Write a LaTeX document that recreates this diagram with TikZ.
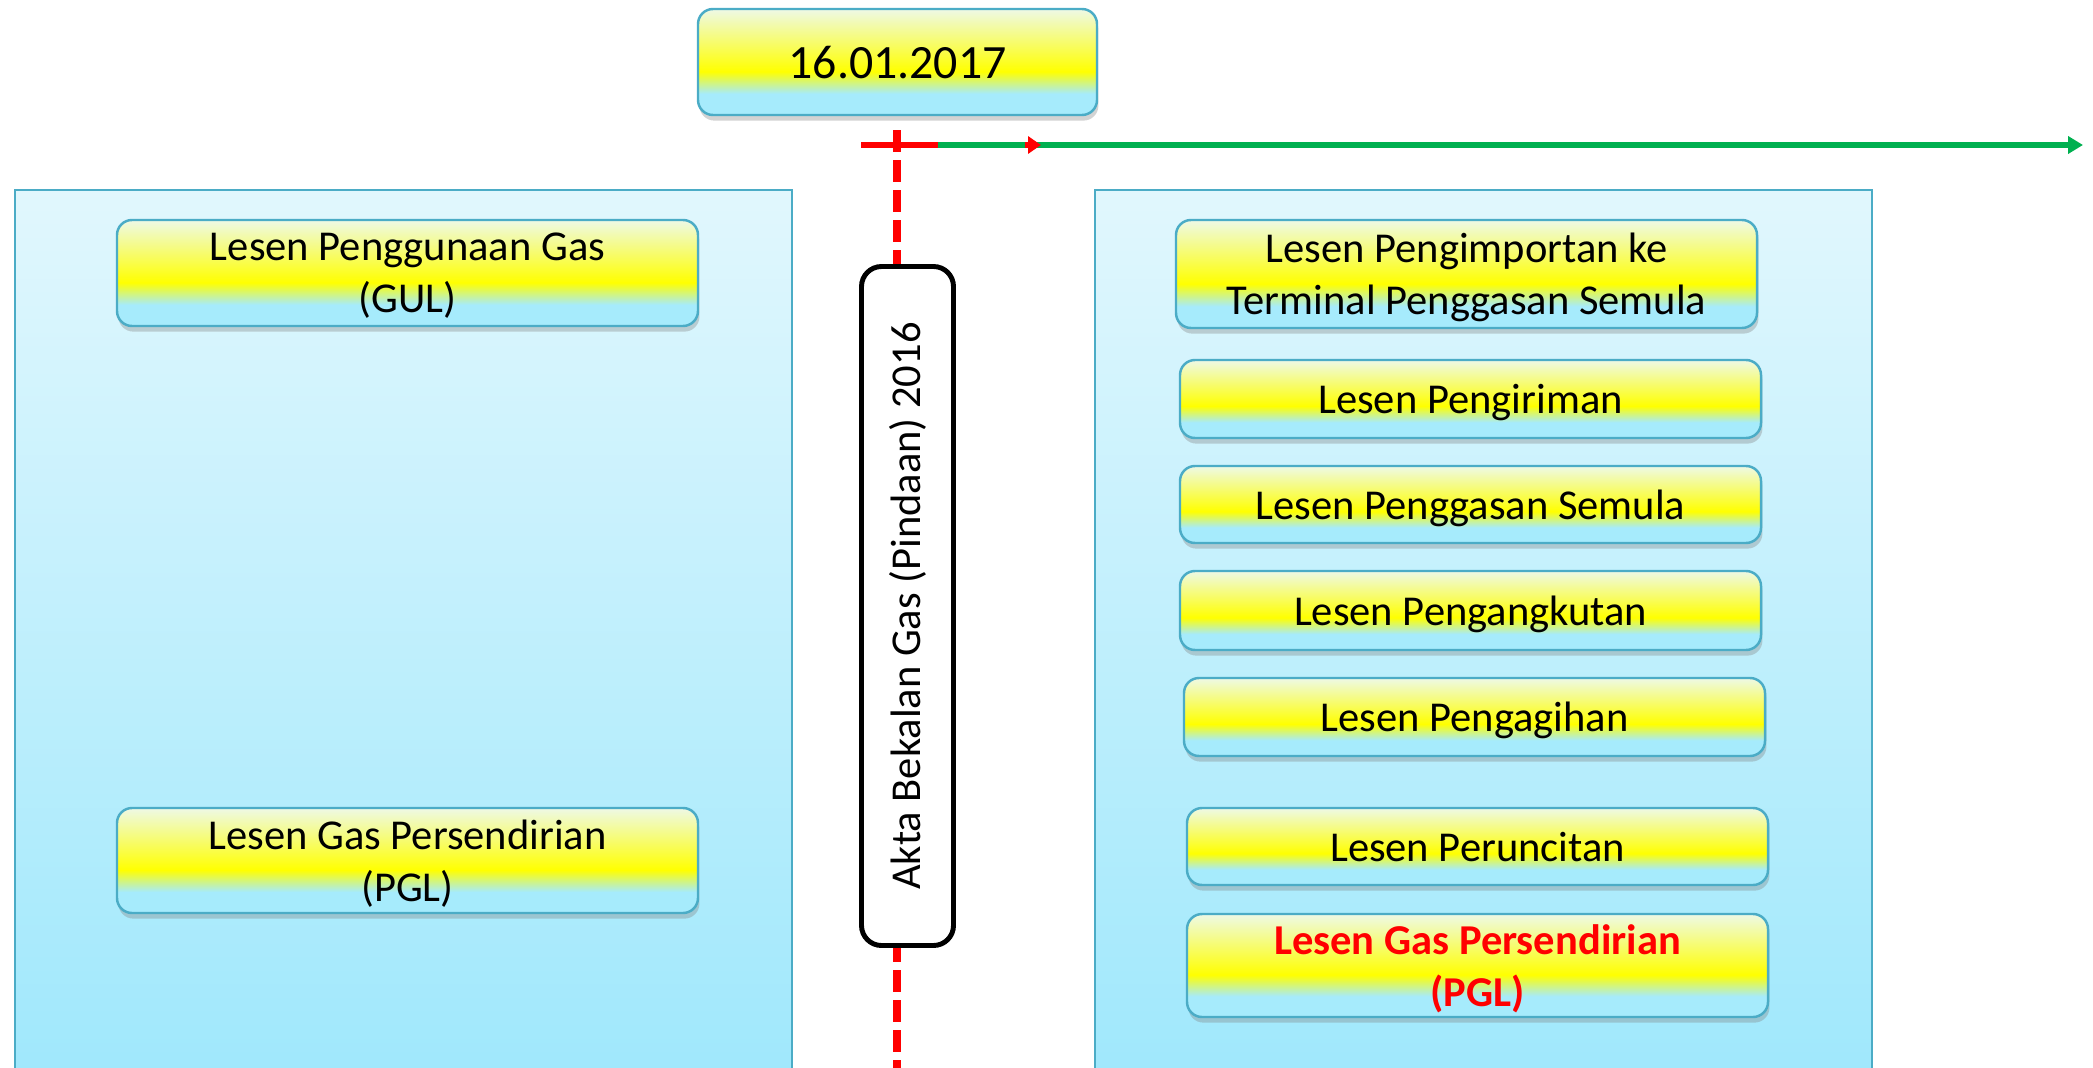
\documentclass[tikz,border=0pt]{standalone}
\usepackage{fontspec}
\setmainfont{Carlito}
\usetikzlibrary{arrows.meta,shadows}
\definecolor{lsnedge}{HTML}{4BACC6}
\definecolor{lsntop}{HTML}{EEF9E6}
\definecolor{lsnyel}{HTML}{FFFF00}
\definecolor{lsncyan}{HTML}{A6EBFC}
\definecolor{pnltop}{HTML}{E1F7FD}
\definecolor{pnlbot}{HTML}{A0E8FC}
\definecolor{tlgreen}{HTML}{00B050}
\pgfdeclareverticalshading{lesenshade}{100bp}{color(0bp)=(lsncyan); color(35bp)=(lsncyan); color(45.5bp)=(lsnyel); color(75bp)=(lsntop); color(100bp)=(lsntop)}
\pgfdeclareverticalshading{panelshade}{100bp}{color(0bp)=(pnlbot); color(25bp)=(pnlbot); color(75bp)=(pnltop); color(100bp)=(pnltop)}
\begin{document}
\begin{tikzpicture}[
    lesen/.style={draw=lsnedge, line width=0.7pt, rounded corners=0.15cm, shading=lesenshade,
        drop shadow={shadow xshift=0.4pt, shadow yshift=-1.6pt, opacity=0.35},
        minimum width=5.81cm, inner sep=0pt, align=center, text depth=0pt,
        font=\fontsize{12.1}{14.8}\selectfont},
    panel/.style={draw=lsnedge, line width=0.7pt, shading=panelshade, inner sep=0pt,
        minimum width=7.77cm, minimum height=8.82cm}]
    \useasboundingbox (0,0) rectangle (20.93,10.67);

    % two periods
    \node[panel] (lhs) at (4.035,4.36) {};
    \node[panel] (rhs) at (14.835,4.36) {};

    % time line
    \coordinate (tStart) at (8.61,9.22);
    \coordinate (tMid)   at (9.38,9.22);
    \coordinate (tTip)   at (10.25,9.22);
    \coordinate (tRed)   at (10.41,9.22);
    \coordinate (tEnd)   at (20.83,9.22);
    \coordinate (cutTop) at (8.97,9.37);
    \coordinate (cutBot) at (8.97,-0.05);

    \draw [red, line width=1.5pt] (tStart) -- (tMid);
    \draw [tlgreen, line width=1.5pt, -{Triangle[length=0.15cm,width=0.17cm]}] (tMid) -- (tEnd);
    \draw [red, line width=1.5pt, -{Triangle[length=0.13cm,width=0.17cm]}] (tTip) -- (tRed);
    \draw [red, line width=2.2pt, dash pattern=on 0.22cm off 0.08cm] (cutTop) -- (cutBot);

    \node[draw, line width=1.4pt, rounded corners=0.2cm, fill=white, rotate=90,
          minimum width=6.79cm, minimum height=0.92cm, inner sep=0pt,
          font=\fontsize{12.1}{14.8}\selectfont] (akta) at (9.075,4.61) {Akta Bekalan Gas (Pindaan) 2016};
    \node[lesen, minimum width=3.99cm, minimum height=1.06cm,
          font=\fontsize{13.6}{16}\selectfont] (tarikh) at (8.975,10.05) {16.01.2017};

    % before
    \node[lesen, minimum height=1.06cm] (gul)  at (4.075,7.94) {Lesen Penggunaan Gas\\(GUL)};
    \node[lesen, minimum height=1.05cm] (pglA) at (4.075,2.065) {Lesen Gas Persendirian\\(PGL)};

    % after
    \node[lesen, minimum height=1.08cm] (impt) at (14.665,7.93) {Lesen Pengimportan ke\\Terminal Penggasan Semula};
    \node[lesen, minimum height=0.78cm] (kirim) at (14.705,6.68) {Lesen Pengiriman};
    \node[lesen, minimum height=0.77cm] (gasan) at (14.705,5.625) {Lesen Penggasan Semula};
    \node[lesen, minimum height=0.79cm] (angkut) at (14.705,4.565) {Lesen Pengangkutan};
    \node[lesen, minimum height=0.78cm] (agih) at (14.745,3.50) {Lesen Pengagihan};
    \node[lesen, minimum height=0.77cm] (runcit) at (14.775,2.205) {Lesen Peruncitan};
    \node[lesen, minimum height=1.03cm, text=red, font=\fontsize{12.1}{14.8}\selectfont\bfseries] (pglB) at (14.775,1.015) {Lesen Gas Persendirian\\(PGL)};
\end{tikzpicture}
\end{document}
